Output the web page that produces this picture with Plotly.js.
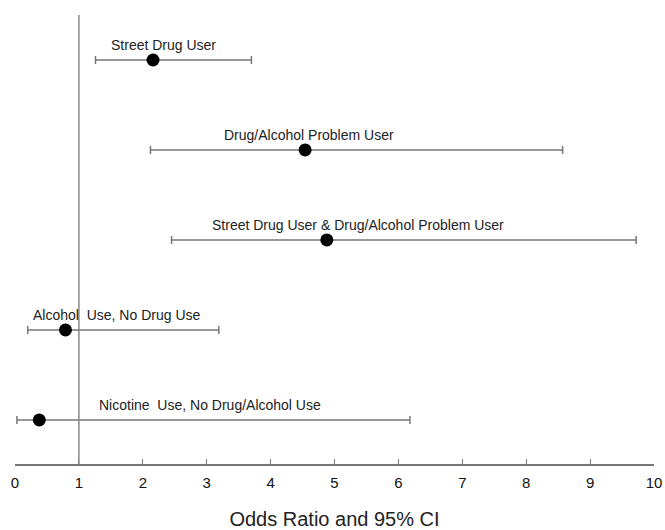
<!DOCTYPE html>
<html>
<head>
<meta charset="utf-8">
<script src="https://cdn.plot.ly/plotly-3.0.1.min.js"></script>
<style>html,body{margin:0;padding:0;background:#fff;}#chart{width:665px;height:530px;}</style>
</head>
<body>
<div id="chart"></div>
<script>
// Data
var groups = [
  "Street Drug User",
  "Drug/Alcohol Problem User",
  "Street Drug User & Drug/Alcohol Problem User",
  "Alcohol\u00a0 Use, No Drug Use",
  "Nicotine\u00a0 Use, No Drug/Alcohol Use"
];
var oddsRatio = [2.16, 4.54, 4.88, 0.79, 0.38];
var ciLower   = [1.26, 2.12, 2.45, 0.20, 0.03];
var ciUpper   = [3.70, 8.57, 9.72, 3.19, 6.18];
var xTicks = [0, 1, 2, 3, 4, 5, 6, 7, 8, 9, 10];

// label placement (layout only)
var labelX = [2.33, 4.6, 5.37, 1.6, 3.05];

var plus = oddsRatio.map(function(v, i){ return ciUpper[i] - v; });
var minus = oddsRatio.map(function(v, i){ return v - ciLower[i]; });
var rowIds = groups.map(function(g, i){ return "r" + i; });

var trace = {
  type: "scatter",
  mode: "markers",
  x: oddsRatio,
  y: rowIds,
  marker: {color: "#000", size: 13},
  error_x: {
    type: "data", symmetric: false,
    array: plus, arrayminus: minus,
    color: "#777", thickness: 1.5, width: 4
  },
  hoverinfo: "skip"
};

var annotations = groups.map(function(g, i){
  return {
    x: labelX[i], y: rowIds[i], xref: "x", yref: "y",
    text: g, showarrow: false, yshift: 15,
    font: {family: "Liberation Sans, Arial, sans-serif", size: 14, color: "#222"}
  };
});

var layout = {
  width: 665, height: 530,
  margin: {l: 15.3, r: 11, t: 15, b: 66},
  paper_bgcolor: "#fff", plot_bgcolor: "#fff",
  showlegend: false,
  xaxis: {
    range: [0, 10],
    tickmode: "array", tickvals: xTicks, ticktext: xTicks.map(String),
    ticks: "inside", ticklen: 5, tickcolor: "#777", tickwidth: 1,
    ticklabelstandoff: 4,
    showline: true, linecolor: "#777", linewidth: 1.5,
    showgrid: false, zeroline: false,
    tickfont: {family: "Liberation Sans, Arial, sans-serif", size: 15, color: "#111"},
    title: {text: "Odds Ratio and 95% CI", standoff: 22,
            font: {family: "Liberation Sans, Arial, sans-serif", size: 20, color: "#222"}}
  },
  yaxis: {
    type: "category",
    categoryarray: rowIds,
    range: [4.49, -0.5],
    showticklabels: false, showgrid: false, zeroline: false, showline: false, ticks: ""
  },
  shapes: [{
    type: "line", xref: "x", yref: "paper",
    x0: 1, x1: 1, y0: 0, y1: 1,
    line: {color: "#888", width: 1.5}
  }],
  annotations: annotations
};

Plotly.newPlot("chart", [trace], layout, {displayModeBar: false, staticPlot: true});
</script>
</body>
</html>
